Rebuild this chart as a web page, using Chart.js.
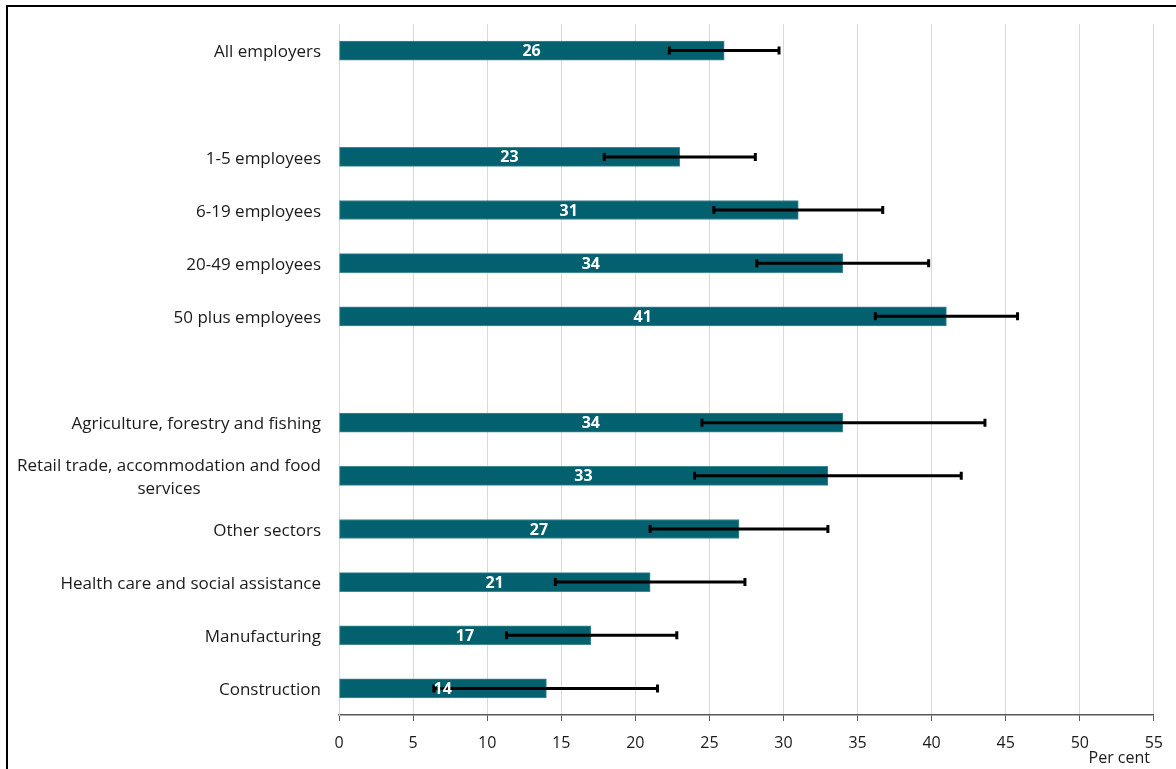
<!DOCTYPE html>
<html>
<head>
<meta charset="utf-8">
<title>Employers by size and sector</title>
<script src="https://cdn.jsdelivr.net/npm/chart.js@4/dist/chart.umd.min.js"></script>
<style>
    html, body {
        margin: 0;
        padding: 0;
        background: #fff;
        overflow: hidden;
    }
    #wrap {
        position: relative;
        width: 1176px;
        height: 769px;
    }
    #frame {
        position: absolute;
        left: 6px;
        top: 5px;
        width: 1200px;
        height: 800px;
        border: 2px solid #000;
        pointer-events: none;
    }
</style>
</head>
<body>
<div id="wrap">
    <canvas id="employersChart" width="1176" height="769"></canvas>
    <div id="frame"></div>
</div>
<script>
// Categories (empty strings are the gaps between groups)
const categories = [
    'All employers',
    '',
    '1-5 employees',
    '6-19 employees',
    '20-49 employees',
    '50 plus employees',
    '',
    'Agriculture, forestry and fishing',
    ['Retail trade, accommodation and food', 'services'],
    'Other sectors',
    'Health care and social assistance',
    'Manufacturing',
    'Construction'
];

// Per cent values
const values = [26, null, 23, 31, 34, 41, null, 34, 33, 27, 21, 17, 14];

// Confidence interval ends
const errLow = [22.3, null, 17.9, 25.3, 28.2, 36.2, null, 24.5, 24.0, 21.0, 14.6, 11.3, 6.4];
const errHigh = [29.7, null, 28.1, 36.7, 39.8, 45.8, null, 43.6, 42.0, 33.0, 27.4, 22.8, 21.5];

// Axis ticks
const xTicks = [0, 5, 10, 15, 20, 25, 30, 35, 40, 45, 50, 55];

const fontFamily = '"Open Sans", Lato, sans-serif';

/**
 * Draws category labels (multi-line ones centred), error bars and value labels
 */
const overlayPlugin = {
    id: 'overlay',
    afterDatasetsDraw(chart) {
        const ctx = chart.ctx;
        const xScale = chart.scales.x;
        const yScale = chart.scales.y;

        ctx.save();

        // error bars
        ctx.strokeStyle = '#000';
        ctx.lineWidth = 3;
        values.forEach((v, i) => {
            if (v === null) return;
            const y = yScale.getPixelForValue(i);
            const x1 = xScale.getPixelForValue(errLow[i]);
            const x2 = xScale.getPixelForValue(errHigh[i]);
            ctx.beginPath();
            ctx.moveTo(x1, y);
            ctx.lineTo(x2, y);
            ctx.moveTo(x1, y - 4);
            ctx.lineTo(x1, y + 4);
            ctx.moveTo(x2, y - 4);
            ctx.lineTo(x2, y + 4);
            ctx.stroke();
        });

        // value labels in the middle of each bar
        ctx.fillStyle = '#fff';
        ctx.font = 'bold 16px ' + fontFamily;
        ctx.textAlign = 'center';
        ctx.textBaseline = 'middle';
        values.forEach((v, i) => {
            if (v === null) return;
            const y = yScale.getPixelForValue(i);
            const x = xScale.getPixelForValue(v / 2);
            ctx.fillText(String(v), x, y + 1);
        });

        // category labels
        ctx.fillStyle = '#1a1a1a';
        ctx.font = '17px ' + fontFamily;
        const rightEdge = 321;
        categories.forEach((label, i) => {
            if (!label) return;
            const y = yScale.getPixelForValue(i) + 2;
            const lines = Array.isArray(label) ? label : [label];
            const widest = Math.max(...lines.map(l => ctx.measureText(l).width));
            const centre = rightEdge - widest / 2;
            const lineH = 23;
            const startY = y - (lines.length - 1) * lineH / 2;
            lines.forEach((line, k) => {
                ctx.textAlign = lines.length > 1 ? 'center' : 'right';
                ctx.fillText(line, lines.length > 1 ? centre : rightEdge, startY + k * lineH);
            });
        });

        // axis unit under the last ticks
        ctx.font = '16px ' + fontFamily;
        ctx.textAlign = 'right';
        ctx.fillText('Per cent', 1150, 758);

        ctx.restore();
    }
};

new Chart(document.getElementById('employersChart').getContext('2d'), {
    type: 'bar',
    data: {
        labels: categories,
        datasets: [{
            data: values,
            backgroundColor: '#02606f',
            borderColor: '#3f8893',
            borderWidth: 1,
            borderSkipped: false,
            barThickness: 19
        }]
    },
    options: {
        indexAxis: 'y',
        responsive: false,
        animation: false,
        layout: {
            padding: { left: 0, right: 21, top: 24, bottom: 0 }
        },
        plugins: {
            legend: { display: false },
            tooltip: { enabled: false }
        },
        scales: {
            x: {
                min: 0,
                max: 55,
                afterBuildTicks: function(scale) {
                    scale.ticks = xTicks.map(v => ({ value: v }));
                },
                afterFit: function(scale) {
                    scale.height = 54;
                },
                grid: {
                    color: '#d9d9d9',
                    lineWidth: 1,
                    tickColor: '#595959',
                    tickLength: 6
                },
                border: {
                    color: '#595959',
                    width: 1.5
                },
                ticks: {
                    color: '#1a1a1a',
                    padding: 13,
                    maxRotation: 0,
                    font: { family: fontFamily, size: 16 }
                }
            },
            y: {
                afterFit: function(scale) {
                    scale.width = 339;
                },
                grid: {
                    display: false
                },
                border: {
                    color: '#d9d9d9'
                },
                ticks: {
                    display: false
                }
            }
        }
    },
    plugins: [overlayPlugin]
});
</script>
</body>
</html>
